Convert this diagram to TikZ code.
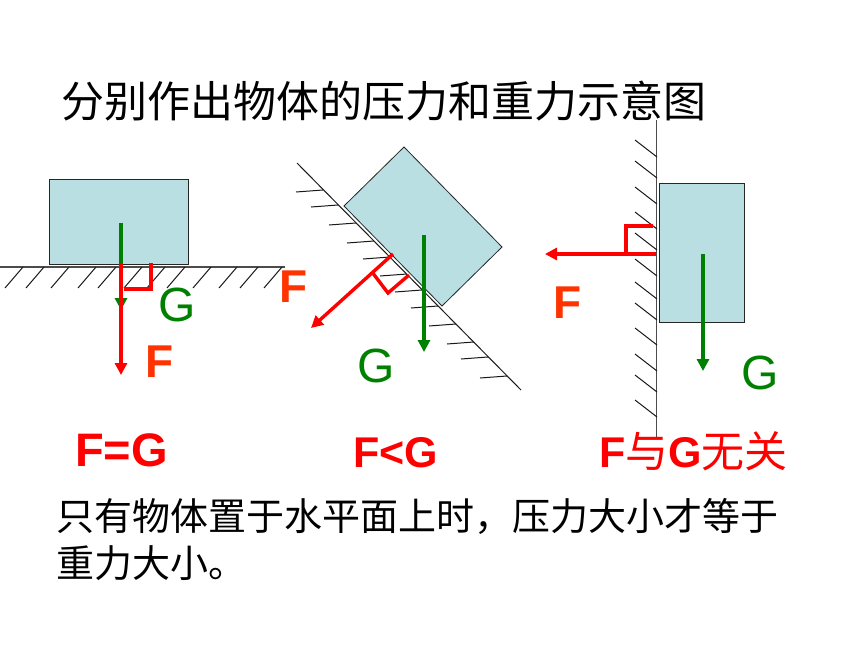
\documentclass[tikz,border=0pt]{standalone}
\usepackage{fontspec}
\setmainfont{Liberation Sans}
\newfontfamily\cjk{Noto Sans CJK SC}
\usetikzlibrary{arrows.meta}
\definecolor{boxfill}{HTML}{B9DFE2}
\definecolor{forcered}{HTML}{FF0000}
\definecolor{labelred}{HTML}{FF3300}
\definecolor{gravgreen}{HTML}{008000}
\tikzset{
  body/.style={draw=black!85, fill=boxfill, line width=1pt},
  surface/.style={draw=black!70, line width=1.4pt},
  hatch/.style={draw=black!90, line width=1pt},
  gforce/.style={draw=gravgreen, line width=3.4pt, -{Triangle[width=12pt,length=12pt]}},
  fforce/.style={draw=forcered, line width=3.4pt, -{Triangle[width=12pt,length=12pt]}},
  perp/.style={draw=forcered, line width=3.4pt},
  glabel/.style={anchor=base west, inner sep=0pt, text=gravgreen, font=\fontsize{48}{48}\selectfont},
  flabel/.style={anchor=base west, inner sep=0pt, text=labelred, font=\fontsize{46}{46}\selectfont\bfseries},
  relation/.style={anchor=base west, inner sep=0pt, text=forcered, font=\fontsize{43}{43}\selectfont\bfseries},
  words/.style={anchor=base west, inner sep=0pt, text=black}
}
\begin{document}
\begin{tikzpicture}[x=1pt, y=-1pt]
  \useasboundingbox[fill=white] (0,0) rectangle (860,645);
  % title
  \node[words, font=\cjk\fontsize{43}{43}\selectfont] (title) at (61,117) {分别作出物体的压力和重力示意图};

  % flat ground
  \draw[surface] (0,267) -- (285,267);
  \foreach \hx in {23,44,69,96,116,142,165,185,211,237,258,282}
    \draw[hatch] (\hx,267) -- ++(-18,21);
  \draw[body] (49,179) rectangle (188,264);
  \coordinate (gatop) at (121,223);
  \coordinate (gaend) at (121,310);
  \coordinate (fatop) at (121,264);
  \coordinate (faend) at (121,375);
  \draw[gforce] (gatop) -- (gaend);
  \draw[fforce] (fatop) -- (faend);
  \coordinate (pa1) at (151,263);
  \coordinate (pa2) at (151,289);
  \coordinate (pa3) at (124,289);
  \draw[perp] (pa1) -- (pa2) -- (pa3);
  \node[glabel] (ga) at (158,321) {G};
  \node[flabel] (fa) at (145,377) {F};
  \node[relation, font=\fontsize{47}{47}\selectfont\bfseries] (ra) at (75,466) {F=G};

  % slope
  \draw[hatch] (297,163) -- (521,390);
  \foreach \hx/\hy in {323/190,338/205,356/223,374/241,390/257,407/274,422/290,438/306,456/324,474/342,488/357,507/376}
    \draw[hatch] (\hx,\hy) -- ++(-27,2);
  \draw[body, line width=0.8pt] (404,147) -- (502,247) -- (442,306) -- (344,206) -- cycle;
  \coordinate (gbtop) at (424,235);
  \coordinate (gbend) at (424,352);
  \coordinate (fbtop) at (393,254);
  \coordinate (fbend) at (311,328);
  \draw[gforce] (gbtop) -- (gbend);
  \draw[fforce] (fbtop) -- (fbend);
  \coordinate (pb1) at (372,272);
  \coordinate (pb2) at (388,293);
  \coordinate (pb3) at (409,275);
  \draw[perp] (pb1) -- (pb2) -- (pb3);
  \node[glabel] (gb) at (357,382) {G};
  \node[flabel] (fb) at (279,302) {F};
  \node[relation] (rb) at (353,467) {F<G};

  % wall
  \draw[surface] (656.5,120) -- (656.5,438);
  \foreach \hy in {157,178,204,229,250,276,299,320,345,371,392,417}
    \draw[hatch] (657,\hy) -- ++(-22,-17);
  \draw[body] (659,183) rectangle (744,322);
  \coordinate (gctop) at (703,254);
  \coordinate (gcend) at (703,371);
  \coordinate (fctop) at (656,254);
  \coordinate (fcend) at (545,254);
  \draw[gforce] (gctop) -- (gcend);
  \draw[fforce] (fctop) -- (fcend);
  \coordinate (pc1) at (653,226);
  \coordinate (pc2) at (626,226);
  \coordinate (pc3) at (626,254);
  \draw[perp] (pc1) -- (pc2) -- (pc3);
  \node[glabel] (gc) at (741,389) {G};
  \node[flabel] (fc) at (553,318) {F};
  \node[relation] (rc) at (599,467) {F{\cjk\mdseries 与}G{\cjk\mdseries 无关}};

  % conclusion
  \node[words, align=left, font=\cjk\fontsize{38}{47}\selectfont] (note) at (56,577)
    {只有物体置于水平面上时^^^^ff0c压力大小才等于\\重力大小。};
\end{tikzpicture}
\end{document}
